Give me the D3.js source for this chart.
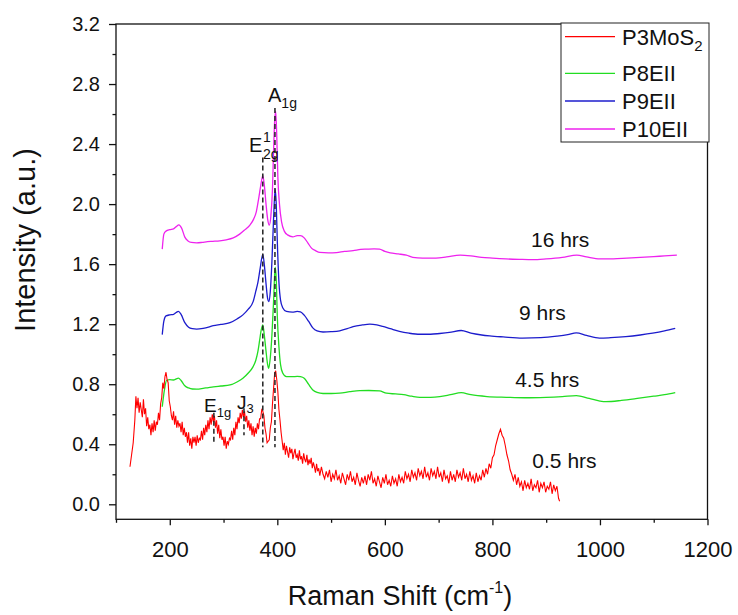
<!DOCTYPE html>
<html>
<head>
<meta charset="utf-8">
<script src="https://cdn.jsdelivr.net/npm/d3@7"></script>
<style>
html,body{margin:0;padding:0;background:#fff;}
svg{display:block;font-family:"Liberation Sans",Arial,Helvetica,sans-serif;}
</style>
</head>
<body>
<svg id="chart" width="738" height="615"></svg>
<script>
// ---------- DATA ----------
const xTickValues = [200, 400, 600, 800, 1000, 1200];
const xMinorTicks = [100, 300, 500, 700, 900, 1100];
const yTickValues = [0.0, 0.4, 0.8, 1.2, 1.6, 2.0, 2.4, 2.8, 3.2];
const yMinorTicks = [0.2, 0.6, 1.0, 1.4, 1.8, 2.2, 2.6, 3.0];

const seriesNames = ["P3MoS2", "P8EII", "P9EII", "P10EII"];
const seriesColors = ["#ff0000", "#22dd22", "#1c1ccc", "#ee22ee"];

const p3MoS2 = [
[126,0.25],[129,0.33],[132,0.41],[135,0.56],[137,0.72],[139,0.64],[141,0.71],[143,0.61],[145,0.68],[147,0.63],
[149,0.58],[151,0.70],[153,0.60],[155,0.64],[157,0.52],[159,0.58],[161,0.50],[163,0.53],[165,0.46],[167,0.54],
[169,0.48],[171,0.56],[173,0.49],[175,0.55],[177,0.53],[179,0.61],[181,0.56],[183,0.67],[185,0.71],[187,0.81],
[189,0.77],[191,0.85],[193,0.88],[195,0.83],[197,0.81],[199,0.69],[201,0.65],[203,0.59],[205,0.56],[207,0.62],
[209,0.53],[211,0.59],[213,0.51],[215,0.56],[217,0.52],[219,0.54],[221,0.48],[223,0.55],[225,0.46],[227,0.51],
[229,0.45],[231,0.48],[233,0.41],[235,0.48],[237,0.39],[239,0.44],[241,0.37],[243,0.45],[245,0.41],[247,0.45],
[249,0.39],[251,0.46],[253,0.41],[255,0.44],[257,0.43],[259,0.49],[261,0.43],[263,0.51],[265,0.46],[267,0.53],
[269,0.48],[271,0.56],[273,0.50],[275,0.58],[277,0.53],[279,0.60],[281,0.55],[283,0.59],[285,0.51],[287,0.56],
[289,0.47],[291,0.53],[293,0.44],[295,0.50],[297,0.43],[299,0.45],[301,0.39],[303,0.45],[305,0.37],[307,0.42],
[309,0.40],[311,0.44],[313,0.43],[315,0.49],[317,0.43],[319,0.51],[321,0.46],[323,0.55],[325,0.50],[327,0.58],
[329,0.54],[331,0.61],[333,0.57],[335,0.63],[337,0.58],[339,0.62],[341,0.55],[343,0.59],[345,0.51],[347,0.56],
[349,0.49],[351,0.54],[353,0.46],[355,0.52],[357,0.45],[359,0.51],[361,0.47],[363,0.54],[365,0.50],[367,0.57],
[369,0.57],[371,0.63],[373,0.62],[375,0.59],[377,0.51],[379,0.47],[381,0.41],[383,0.42],[385,0.43],[387,0.51],
[389,0.55],[391,0.67],[393,0.77],[395,0.87],[397,0.89],[399,0.83],[401,0.75],[403,0.63],[405,0.56],[407,0.48],
[409,0.42],[411,0.36],[413,0.41],[415,0.33],[417,0.39],[419,0.35],[421,0.31],[423,0.38],[425,0.34],[427,0.37],
[429,0.30],[431,0.34],[433,0.37],[435,0.31],[437,0.33],[439,0.29],[441,0.36],[443,0.30],[445,0.32],[447,0.27],
[449,0.34],[451,0.30],[453,0.28],[455,0.33],[457,0.26],[459,0.30],[461,0.27],[463,0.31],[465,0.24],[467,0.28],
[469,0.25],[471,0.21],[473,0.27],[475,0.22],[477,0.24],[479,0.19],[482,0.25],[485,0.20],[488,0.17],[491,0.22],
[494,0.18],[497,0.23],[500,0.15],[503,0.20],[506,0.17],[509,0.23],[512,0.16],[515,0.19],[518,0.14],[521,0.21],
[524,0.17],[527,0.13],[530,0.20],[533,0.16],[536,0.22],[539,0.15],[542,0.18],[545,0.13],[548,0.21],[551,0.16],
[554,0.12],[557,0.18],[560,0.14],[563,0.19],[566,0.13],[569,0.20],[572,0.16],[575,0.22],[578,0.14],[581,0.17],
[584,0.12],[587,0.19],[590,0.15],[593,0.11],[596,0.18],[599,0.14],[602,0.20],[605,0.13],[608,0.16],[611,0.12],
[614,0.19],[617,0.14],[620,0.17],[623,0.12],[626,0.20],[629,0.15],[632,0.18],[635,0.14],[638,0.22],[641,0.17],
[644,0.20],[647,0.15],[650,0.23],[653,0.18],[656,0.21],[659,0.16],[662,0.24],[665,0.19],[668,0.22],[671,0.17],
[674,0.25],[677,0.18],[680,0.21],[683,0.16],[686,0.24],[689,0.19],[692,0.22],[695,0.17],[698,0.25],[701,0.18],
[704,0.21],[707,0.15],[710,0.23],[713,0.17],[716,0.19],[719,0.14],[722,0.22],[725,0.16],[728,0.20],[731,0.15],
[734,0.23],[737,0.18],[740,0.21],[743,0.16],[746,0.24],[749,0.17],[752,0.20],[755,0.15],[758,0.22],[761,0.16],
[764,0.19],[767,0.14],[770,0.21],[773,0.15],[776,0.19],[779,0.16],[782,0.23],[785,0.18],[788,0.24],[791,0.20],
[794,0.27],[797,0.24],[800,0.31],[803,0.33],[806,0.39],[809,0.43],[812,0.47],[815,0.50],[818,0.46],[821,0.44],
[824,0.39],[827,0.33],[830,0.29],[833,0.23],[836,0.20],[839,0.16],[842,0.20],[845,0.13],[848,0.18],[851,0.12],
[854,0.15],[857,0.09],[860,0.16],[863,0.11],[866,0.14],[869,0.10],[872,0.17],[875,0.09],[878,0.13],[881,0.11],
[884,0.16],[887,0.08],[890,0.14],[893,0.11],[896,0.15],[899,0.08],[902,0.12],[905,0.10],[908,0.15],[911,0.07],
[914,0.13],[917,0.09],[920,0.12],[923,0.04],[925,0.02]
];

const p8EII = [
[186,0.65],[190,0.76],[194,0.825],[200,0.83],[207,0.828],[212,0.835],[216,0.84],[221,0.825],[228,0.79],[235,0.775],
[242,0.768],[250,0.767],[262,0.772],[272,0.778],[281,0.782],[295,0.788],[312,0.795],[325,0.815],[336,0.84],[346,0.875],
[355,0.917],[360,0.96],[364,1.02],[367,1.09],[370,1.16],[373,1.195],[376,1.12],[379,1.02],[382,0.93],[384,0.905],
[387,0.98],[390,1.13],[393,1.35],[396,1.58],[398,1.50],[400,1.25],[403,1.05],[406,0.93],[410,0.875],[417,0.85],
[428,0.85],[437,0.852],[443,0.85],[450,0.84],[458,0.80],[466,0.762],[474,0.745],[485,0.738],[500,0.738],[516,0.74],
[535,0.75],[553,0.757],[570,0.758],[590,0.755],[603,0.74],[620,0.735],[635,0.73],[650,0.72],[665,0.713],[685,0.713],
[702,0.717],[722,0.73],[742,0.744],[760,0.73],[790,0.718],[826,0.713],[860,0.71],[900,0.713],[930,0.718],[956,0.724],
[980,0.705],[1000,0.688],[1011,0.684],[1040,0.692],[1073,0.707],[1100,0.72],[1120,0.73],[1140,0.744]
];

const p9EII = [
[186,1.13],[189,1.22],[193,1.255],[200,1.262],[207,1.265],[212,1.278],[216,1.285],[221,1.265],[228,1.21],[235,1.18],
[242,1.17],[250,1.167],[262,1.172],[272,1.18],[281,1.19],[295,1.198],[312,1.21],[325,1.235],[336,1.262],[346,1.30],
[355,1.35],[360,1.42],[364,1.48],[368,1.57],[373,1.665],[376,1.59],[379,1.47],[382,1.37],[384,1.35],[387,1.42],
[390,1.62],[393,1.90],[396,2.10],[398,2.0],[400,1.75],[403,1.48],[406,1.36],[410,1.31],[417,1.285],[428,1.28],
[437,1.285],[443,1.282],[450,1.26],[458,1.22],[466,1.175],[474,1.155],[485,1.148],[500,1.15],[516,1.156],[530,1.17],
[541,1.184],[558,1.195],[572,1.20],[585,1.195],[596,1.185],[610,1.17],[627,1.152],[645,1.14],[665,1.133],[685,1.133],
[702,1.138],[720,1.145],[742,1.158],[760,1.14],[780,1.128],[795,1.122],[820,1.115],[856,1.107],[890,1.11],[920,1.12],
[940,1.13],[956,1.142],[975,1.125],[999,1.107],[1020,1.11],[1048,1.117],[1075,1.128],[1098,1.14],[1120,1.155],[1140,1.172]
];

const p10EII = [
[186,1.70],[189,1.80],[193,1.82],[200,1.83],[207,1.835],[212,1.85],[217,1.862],[222,1.84],[228,1.78],[234,1.755],
[240,1.745],[250,1.742],[260,1.745],[270,1.75],[280,1.752],[293,1.755],[305,1.762],[318,1.775],[330,1.80],[340,1.83],
[349,1.86],[356,1.90],[361,1.95],[365,2.03],[369,2.12],[373,2.19],[376,2.12],[379,2.00],[382,1.90],[385,1.86],
[388,1.92],[391,2.10],[393,2.35],[395,2.55],[397,2.62],[399,2.45],[401,2.18],[404,2.00],[408,1.88],[413,1.82],
[419,1.795],[429,1.782],[437,1.79],[443,1.79],[450,1.775],[457,1.74],[464,1.705],[471,1.69],[479,1.678],[495,1.675],
[510,1.677],[525,1.685],[541,1.69],[555,1.698],[566,1.70],[580,1.702],[590,1.70],[600,1.685],[610,1.675],[625,1.668],
[640,1.66],[652,1.645],[670,1.64],[695,1.64],[715,1.648],[740,1.66],[760,1.655],[780,1.645],[800,1.64],[825,1.635],
[850,1.632],[875,1.63],[900,1.635],[930,1.645],[957,1.66],[975,1.648],[1000,1.635],[1025,1.635],[1050,1.64],[1075,1.645],
[1100,1.65],[1120,1.655],[1143,1.66]
];

// dashed peak markers: [shift, yFrom, yTo]
const peakLines = [[373,0.38,2.31],[395.6,0.38,2.64],[282,0.41,0.61],[338,0.46,0.64]];

// time labels: [text, shift, intensity]
const timeLabels = [["16 hrs",926,1.715],["9 hrs",893,1.229],["4.5 hrs",902,0.782],["0.5 hrs",934,0.242]];

// ---------- CHART ----------
const svg = d3.select("#chart");
const FONT = '"Liberation Sans",Arial,Helvetica,sans-serif';

const x = d3.scaleLinear().domain([100,1200]).range([116,707.5]);
const y = d3.scaleLinear().domain([-0.1,3.2]).range([519.3,24]);

// axes
const xAxis = svg.append("g").attr("transform",`translate(0,${y(-0.1)})`)
  .call(d3.axisBottom(x).tickValues(xTickValues).tickSize(6).tickPadding(16).tickFormat(d3.format("d")));
xAxis.select(".domain").remove();
xAxis.selectAll("text").attr("font-size",22).attr("font-family",FONT).attr("fill","#111");
xAxis.selectAll("line").attr("stroke","#111").attr("stroke-width",1.3);

const xMinor = svg.append("g").attr("transform",`translate(0,${y(-0.1)})`)
  .call(d3.axisBottom(x).tickValues(xMinorTicks).tickSize(3.5).tickFormat(""));
xMinor.select(".domain").remove();
xMinor.selectAll("line").attr("stroke","#111").attr("stroke-width",1.3);

const yAxis = svg.append("g").attr("transform",`translate(${x(100)},0)`)
  .call(d3.axisLeft(y).tickValues(yTickValues).tickSize(7).tickPadding(9).tickFormat(d3.format(".1f")));
yAxis.select(".domain").remove();
yAxis.selectAll("text").attr("font-size",20).attr("font-family",FONT).attr("fill","#111");
yAxis.selectAll("line").attr("stroke","#111").attr("stroke-width",1.3);

const yMinor = svg.append("g").attr("transform",`translate(${x(100)},0)`)
  .call(d3.axisLeft(y).tickValues(yMinorTicks).tickSize(3.5).tickFormat(""));
yMinor.select(".domain").remove();
yMinor.selectAll("line").attr("stroke","#111").attr("stroke-width",1.3);

// lines
const line = d3.line().x(d=>x(d[0])).y(d=>y(d[1])).curve(d3.curveMonotoneX);
const rawLine = d3.line().x(d=>x(d[0])).y(d=>y(d[1]));
const allSeries = [p3MoS2, p8EII, p9EII, p10EII];
[3,2,1].forEach(i=>{
  svg.append("path").datum(allSeries[i]).attr("d",line)
    .attr("fill","none").attr("stroke",seriesColors[i]).attr("stroke-width",1.3);
});
svg.append("path").datum(p3MoS2).attr("d",rawLine)
  .attr("fill","none").attr("stroke",seriesColors[0]).attr("stroke-width",1.1);

// dashed markers
svg.selectAll(".peak").data(peakLines).enter().append("line")
  .attr("x1",d=>x(d[0])).attr("x2",d=>x(d[0]))
  .attr("y1",d=>y(d[2])).attr("y2",d=>y(d[1]))
  .attr("stroke","#222").attr("stroke-width",1.5).attr("stroke-dasharray","5,3");

// frame
svg.append("rect").attr("x",x(100)).attr("y",y(3.2))
  .attr("width",x(1200)-x(100)).attr("height",y(-0.1)-y(3.2))
  .attr("fill","none").attr("stroke","#111").attr("stroke-width",1.3);

// peak labels
function label(px, py, parts, size){
  const t = svg.append("text").attr("x",px).attr("y",py).attr("font-size",size).attr("fill","#111");
  parts.forEach(p=>{
    t.append("tspan").text(p.t).attr("dy",p.dy||0).attr("font-size",p.s||size)
      .attr("dx",p.dx||0);
  });
  return t;
}
label(268,102,[{t:"A"},{t:"1g",dy:6,s:14}],20);
// E2g^1
label(249,152,[{t:"E"}],20);
label(263,142,[{t:"1"}],14);
label(263,159,[{t:"2g"}],14);
label(204,412,[{t:"E"},{t:"1g",dy:5,s:13}],19);
label(237,409,[{t:"J"},{t:"3",dy:4,s:13}],19);

// time labels
svg.selectAll(".tl").data(timeLabels).enter().append("text")
  .attr("x",d=>x(d[1])).attr("y",d=>y(d[2]))
  .attr("text-anchor","middle").attr("font-size",21).attr("fill","#111")
  .text(d=>d[0]);

// axis titles
const xt = svg.append("text").attr("x",400).attr("y",605).attr("text-anchor","middle")
  .attr("font-size",27).attr("fill","#111");
xt.append("tspan").text("Raman Shift (cm");
xt.append("tspan").text("-1").attr("font-size",16).attr("dy",-12);
xt.append("tspan").text(")").attr("dy",12);

svg.append("text").attr("transform","translate(35,240) rotate(-90)")
  .attr("text-anchor","middle").attr("font-size",29).attr("fill","#111")
  .text("Intensity (a.u.)");

// legend
const lg = svg.append("g");
lg.append("rect").attr("x",561).attr("y",23).attr("width",148).attr("height",119)
  .attr("fill","#fff").attr("stroke","#222").attr("stroke-width",1);
const legendY = [36.7, 73.3, 101, 129];
seriesNames.forEach((n,i)=>{
  lg.append("line").attr("x1",565).attr("x2",615).attr("y1",legendY[i]).attr("y2",legendY[i])
    .attr("stroke",seriesColors[i]).attr("stroke-width",1.3);
  const t = lg.append("text").attr("x",622).attr("y",legendY[i]+8).attr("font-size",22).attr("fill","#111");
  if(n==="P3MoS2"){
    t.append("tspan").text("P3MoS");
    t.append("tspan").text("2").attr("font-size",15).attr("dy",6);
  } else t.text(n);
});
</script>
</body>
</html>
